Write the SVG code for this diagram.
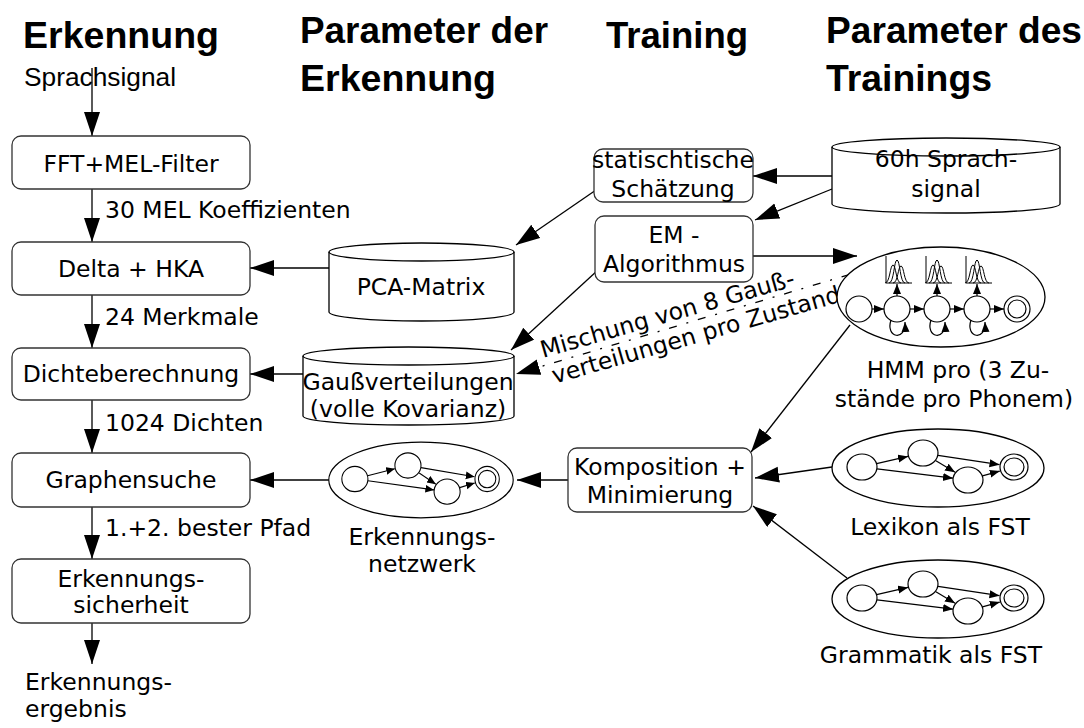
<svg xmlns="http://www.w3.org/2000/svg" xmlns:xlink="http://www.w3.org/1999/xlink" width="1084" height="728" viewBox="0 0 1084 728">
  <style>
    .head { font-family: "Liberation Sans", Arial, sans-serif; font-weight: bold; font-size: 36px; fill: #000; }
    .t { font-family: "DejaVu Sans", Verdana, sans-serif; font-size: 23.5px; fill: #000; }
    .mid { text-anchor: middle; }
    .box { fill: #fff; stroke: #333; stroke-width: 1.3; }
    .shape { fill: #fff; stroke: #000; stroke-width: 1.3; }
    .line { fill: none; stroke: #000; stroke-width: 1.3; }
    .big { marker-end: url(#ah); }
    .st { fill: #fff; stroke: #000; stroke-width: 1.2; }
    .sl { fill: none; stroke: #000; stroke-width: 1.2; marker-end: url(#as); }
    .curve { fill: none; stroke: #000; stroke-width: 1; }
  </style>
  <defs>
    <marker id="ah" markerUnits="userSpaceOnUse" markerWidth="26" markerHeight="18" refX="24" refY="8" orient="auto">
      <path d="M0,0 L24,8 L0,16 z" fill="#000"/>
    </marker>
    <marker id="as" markerUnits="userSpaceOnUse" markerWidth="12" markerHeight="10" refX="10" refY="4" orient="auto">
      <path d="M0,0 L10,4 L0,8 z" fill="#000"/>
    </marker>
    <!-- small finite-state transducer drawn inside an ellipse, centred at 0,0 -->
    <g id="fst">
      <ellipse cx="0" cy="0" rx="106" ry="39" class="shape"/>
      <ellipse cx="-76" cy="-1" rx="15" ry="13" class="st"/>
      <ellipse cx="-15" cy="-15" rx="15" ry="13" class="st"/>
      <ellipse cx="30" cy="12" rx="15" ry="13" class="st"/>
      <ellipse cx="76" cy="-1" rx="14" ry="13" class="st"/>
      <ellipse cx="76" cy="-1" rx="10" ry="9" class="st"/>
      <path d="M-61.4,-4.4 L-30,-11.6" class="sl"/>
      <path d="M-61,0.8 L15,10.2" class="sl"/>
      <path d="M-2.1,-7.3 L17.1,4.3" class="sl"/>
      <path d="M0,-12.7 L61.5,-3.3" class="sl"/>
      <path d="M44.4,7.9 L61.8,3.1" class="sl"/>
    </g>
    <!-- Gaussian mixture sketch above an HMM state, plus its self loop -->
    <g id="gmm">
      <path d="M-11,256 L-11,283 L15,283" class="curve"/>
      <path d="M-12,283 C-7,283 -7,265 -4,265 C-1,265 -1,283 4,283" class="curve"/>
      <path d="M-8,283 C-3,283 -3,260 0,260 C3,260 3,283 8,283" class="curve"/>
      <path d="M-4,283 C1,283 1,266 4,266 C7,266 7,283 12,283" class="curve"/>
      <path d="M0,296 L0,284" class="sl"/>
      <path d="M-6,320 C-12,338 9,342 8,322" class="sl"/>
    </g>
  </defs>

  <rect width="1084" height="728" fill="#fff"/>

  <!-- column headings -->
  <g id="headings">
    <text class="head" x="23" y="48" textLength="196" lengthAdjust="spacingAndGlyphs">Erkennung</text>
    <text class="head" x="300" y="43" textLength="248" lengthAdjust="spacingAndGlyphs">Parameter der</text>
    <text class="head" x="300" y="91" textLength="196" lengthAdjust="spacingAndGlyphs">Erkennung</text>
    <text class="head" x="606" y="48" textLength="142" lengthAdjust="spacingAndGlyphs">Training</text>
    <text class="head" x="826" y="43" textLength="256" lengthAdjust="spacingAndGlyphs">Parameter des</text>
    <text class="head" x="826" y="91" textLength="166" lengthAdjust="spacingAndGlyphs">Trainings</text>
  </g>

  <!-- connectors -->
  <g id="connectors">
    <path d="M92,68 L92,136" class="line big"/>
    <path d="M92,189 L92,242" class="line big"/>
    <path d="M92,295 L92,348" class="line big"/>
    <path d="M92,400 L92,453" class="line big"/>
    <path d="M92,507 L92,559" class="line big"/>
    <path d="M92,623 L92,664" class="line big"/>
    <path d="M329,268 L250,268" class="line big"/>
    <path d="M303,374 L250,374" class="line big"/>
    <path d="M832,176 L753,176" class="line big"/>
    <path d="M832,189 L755,220" class="line big"/>
    <path d="M596,190 L516,245" class="line big"/>
    <path d="M598,270 L511,350" class="line big"/>
    <path d="M753,256 L857,256" class="line big"/>
    <path d="M878,266 L516,374" class="line big" stroke-width="1" stroke-dasharray="8 10 2 10"/>
    <path d="M850,325 L751,452" class="line big"/>
    <path d="M832,467 L755,478" class="line big"/>
    <path d="M847,578 L753,506" class="line big"/>
    <path d="M568,480 L517,480" class="line big"/>
    <path d="M330,480 L250,480" class="line big"/>
    <text class="t" x="105" y="218">30 MEL Koeffizienten</text>
    <text class="t" x="105" y="325">24 Merkmale</text>
    <text class="t" x="105" y="431">1024 Dichten</text>
    <text class="t" x="105" y="536">1.+2. bester Pfad</text>
    <g transform="translate(543,358) rotate(-16)">
      <text class="t" x="0" y="0" font-size="23">Mischung von 8 Gauß-</text>
      <text class="t" x="4" y="28" font-size="23">verteilungen pro Zustand</text>
    </g>
  </g>

  <!-- recognition pipeline -->
  <g id="sprachsignal">
    <text x="24" y="86" font-family="Liberation Sans, Arial, sans-serif" font-size="25" textLength="152" lengthAdjust="spacingAndGlyphs">Sprachsignal</text>
  </g>
  <g id="fft">
    <rect x="12" y="136" width="238" height="53" rx="9" class="box"/>
    <text class="t mid" x="131" y="172">FFT+MEL-Filter</text>
  </g>
  <g id="delta">
    <rect x="12" y="242" width="238" height="53" rx="9" class="box"/>
    <text class="t mid" x="131" y="277">Delta + HKA</text>
  </g>
  <g id="dichte">
    <rect x="12" y="348" width="238" height="52" rx="9" class="box"/>
    <text class="t mid" x="131" y="382">Dichteberechnung</text>
  </g>
  <g id="graphensuche">
    <rect x="12" y="453" width="238" height="54" rx="9" class="box"/>
    <text class="t mid" x="131" y="488">Graphensuche</text>
  </g>
  <g id="sicherheit">
    <rect x="12" y="559" width="238" height="64" rx="9" class="box"/>
    <text class="t mid" x="131" y="587">Erkennungs-</text>
    <text class="t mid" x="131" y="613">sicherheit</text>
  </g>
  <g id="ergebnis">
    <text class="t" x="25" y="690">Erkennungs-</text>
    <text class="t" x="25" y="717">ergebnis</text>
  </g>

  <!-- recognition parameters -->
  <g id="pca">
    <path d="M329,252 A92.5,9 0 0,1 514,252 L514,312 A92.5,9 0 0,1 329,312 Z" class="shape"/>
    <path d="M329,252 A92.5,9 0 0,0 514,252" class="line"/>
    <text class="t mid" x="421" y="295">PCA-Matrix</text>
  </g>
  <g id="gauss">
    <path d="M303,356 A105.5,9 0 0,1 514,356 L514,416 A105.5,9 0 0,1 303,416 Z" class="shape"/>
    <path d="M303,356 A105.5,9 0 0,0 514,356" class="line"/>
    <text class="t mid" x="408" y="390">Gaußverteilungen</text>
    <text class="t mid" x="408" y="417">(volle Kovarianz)</text>
  </g>
  <g id="netzwerk">
    <use xlink:href="#fst" href="#fst" transform="translate(421,480) scale(0.87,0.97)"/>
    <text class="t mid" x="422" y="545">Erkennungs-</text>
    <text class="t mid" x="422" y="572">netzwerk</text>
  </g>

  <!-- training -->
  <g id="schaetzung">
    <rect x="594" y="149" width="159" height="53" rx="9" class="box"/>
    <text class="t mid" x="673" y="168">statischtische</text>
    <text class="t mid" x="673" y="197">Schätzung</text>
  </g>
  <g id="em">
    <rect x="595" y="216" width="158" height="66" rx="9" class="box"/>
    <text class="t mid" x="674" y="243">EM -</text>
    <text class="t mid" x="674" y="272">Algorithmus</text>
  </g>
  <g id="komposition">
    <rect x="568" y="448" width="184" height="64" rx="9" class="box"/>
    <text class="t mid" x="660" y="475">Komposition +</text>
    <text class="t mid" x="660" y="503">Minimierung</text>
  </g>

  <!-- training parameters -->
  <g id="sprachdaten">
    <path d="M832,147 A114,9 0 0,1 1060,147 L1060,204 A114,9 0 0,1 832,204 Z" class="shape"/>
    <path d="M832,147 A114,9 0 0,0 1060,147" class="line"/>
    <text class="t mid" x="946" y="167">60h Sprach-</text>
    <text class="t mid" x="946" y="197">signal</text>
  </g>
  <g id="hmm">
    <ellipse cx="941" cy="297" rx="104" ry="50" class="shape"/>
    <circle cx="859" cy="309" r="13" class="st"/>
    <circle cx="897" cy="309" r="13" class="st"/>
    <circle cx="937" cy="309" r="13" class="st"/>
    <circle cx="977" cy="309" r="13" class="st"/>
    <circle cx="1017" cy="309" r="13" class="st"/>
    <circle cx="1017" cy="309" r="9" class="st"/>
    <path d="M872,309 L884,309" class="sl"/>
    <path d="M910,309 L924,309" class="sl"/>
    <path d="M950,309 L964,309" class="sl"/>
    <path d="M990,309 L1004,309" class="sl"/>
    <use xlink:href="#gmm" href="#gmm" transform="translate(897,0)"/>
    <use xlink:href="#gmm" href="#gmm" transform="translate(937,0)"/>
    <use xlink:href="#gmm" href="#gmm" transform="translate(977,0)"/>
    <text class="t mid" x="958" y="378">HMM pro (3 Zu-</text>
    <text class="t mid" x="954" y="407">stände pro Phonem)</text>
  </g>
  <g id="lexikon">
    <use xlink:href="#fst" href="#fst" transform="translate(938,468)"/>
    <text class="t mid" x="940" y="535">Lexikon als FST</text>
  </g>
  <g id="grammatik">
    <use xlink:href="#fst" href="#fst" transform="translate(938,599)"/>
    <text class="t mid" x="931" y="663">Grammatik als FST</text>
  </g>
</svg>
